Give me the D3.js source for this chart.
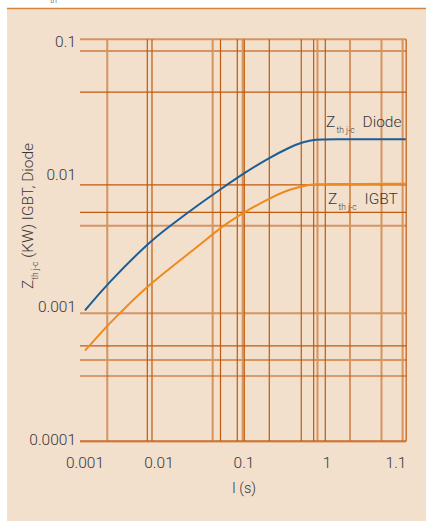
<!DOCTYPE html>
<html>
<head>
<meta charset="utf-8">
<script src="https://cdn.jsdelivr.net/npm/d3@7"></script>
<style>
body { margin: 0; background: #fff; }
text { font-family: Roboto, "Liberation Sans", sans-serif; font-weight: 300; fill: #383838; }
</style>
</head>
<body>
<svg width="426" height="521"></svg>
<script>
// tick values and labels
var xTicks = [0.001, 0.01, 0.1, 1, 1.1],
    xTickLabels = ["0.001", "0.01", "0.1", "1", "1.1"],
    yTicks = [0.1, 0.01, 0.001, 0.0001],
    yTickLabels = ["0.1", "0.01", "0.001", "0.0001"];

// grid lines (values in axis units)
var vGridLight = [0.002, 0.0428, 0.0965, 0.768, 1.0323, 1.0782, 1.1101],
    vGridDark = [0.00695, 0.00804, 0.0529, 0.0834, 0.1008, 0.2018, 0.49, 0.691, 0.954, 1.1156],
    hGridLight = [0.1039, 0.0848, 0.00409, 0.000894, 0.000397, 0.0000965],
    hGridDark = [0.0416, 0.00829, 0.00516, 0.000507, 0.000301, 0.0000974];

// curves
var diodeT = [0.001, 0.00203, 0.00717, 0.01347, 0.0304, 0.0547, 0.0981, 0.2018, 0.358, 0.518, 0.751, 0.95, 1.115],
    diodeZ = [0.00094, 0.0015, 0.00304, 0.00407, 0.0060, 0.0078, 0.0101, 0.0133, 0.0160, 0.01755, 0.01828, 0.01832, 0.01832];
var igbtT = [0.001, 0.00203, 0.00297, 0.00717, 0.0304, 0.0547, 0.1, 0.2018, 0.358, 0.624, 0.902, 1.115],
    igbtZ = [0.000467, 0.00073, 0.000894, 0.00147, 0.00292, 0.00404, 0.00516, 0.00658, 0.00773, 0.0084, 0.00845, 0.00845];

var xMin = 0.000856, xMax = 1.1156, yMin = 0.0000974, yMax = 0.1039;

var svg = d3.select("svg");

var x = d3.scaleLog().domain(xTicks).range([85, 159, 244, 327, 396]),
    y = d3.scaleLog().domain([0.0001, 0.1]).range([439.5, 41.5]);

// background
svg.append("rect").attr("x", 7).attr("y", 9).attr("width", 419).attr("height", 512).attr("fill", "#f2dfcc");
svg.append("line").attr("x1", 7).attr("x2", 426).attr("y1", 8.5).attr("y2", 8.5)
  .attr("stroke", "#d3843f").attr("stroke-width", 1.5);
svg.append("text").attr("x", 50).attr("y", 3).style("font-size", "8px").text("th");

var grid = svg.append("g");

function hLines(vals, color, w) {
  grid.append("g").selectAll("line").data(vals).enter().append("line")
    .attr("x1", x(xMin)).attr("x2", x(xMax))
    .attr("y1", function(d) { return y(d); }).attr("y2", function(d) { return y(d); })
    .attr("stroke", color).attr("stroke-width", w);
}
function vLines(vals, color, w) {
  grid.append("g").selectAll("line").data(vals).enter().append("line")
    .attr("y1", y(yMin)).attr("y2", y(yMax))
    .attr("x1", function(d) { return x(d); }).attr("x2", function(d) { return x(d); })
    .attr("stroke", color).attr("stroke-width", w);
}
hLines(hGridLight, "#d59460", 2);
vLines(vGridLight, "#d59460", 2);
hLines(hGridDark, "#c05a0c", 1.2);
vLines(vGridDark, "#c05a0c", 1.2);

// curves
var line = d3.line()
  .x(function(d) { return x(d[0]); })
  .y(function(d) { return y(d[1]); })
  .curve(d3.curveBasis);

svg.append("path").datum(d3.zip(igbtT, igbtZ)).attr("d", line)
  .attr("fill", "none").attr("stroke", "#f08a1c").attr("stroke-width", 2);
svg.append("path").datum(d3.zip(diodeT, diodeZ)).attr("d", line)
  .attr("fill", "none").attr("stroke", "#1b5e96").attr("stroke-width", 2);

// axis labels
svg.append("g").selectAll("text").data(yTicks).enter().append("text")
  .attr("x", 76).attr("y", function(d) { return y(d); }).attr("dy", "0.35em")
  .attr("text-anchor", "end").style("font-size", "15.5px")
  .text(function(d, i) { return yTickLabels[i]; });

svg.append("g").selectAll("text").data(xTicks).enter().append("text")
  .attr("x", function(d) { return x(d); }).attr("y", 468)
  .attr("text-anchor", "middle").style("font-size", "15.5px")
  .text(function(d, i) { return xTickLabels[i]; });

svg.append("text").attr("x", 244).attr("y", 493).attr("text-anchor", "middle")
  .style("font-size", "14.5px").text("I (s)");

// y title
var yt = svg.append("text").attr("transform", "translate(33,216) rotate(-90)")
  .attr("text-anchor", "middle").style("font-size", "15.5px");
yt.append("tspan").text("Z");
yt.append("tspan").attr("dy", 5).style("font-size", "8.5px").text("th j-c");
yt.append("tspan").attr("dy", -5).text(" (KW) IGBT, Diode");

// curve labels
function zLabel(px, py, name) {
  var t = svg.append("text").attr("y", py).style("font-size", "15.5px");
  t.append("tspan").attr("x", px).text("Z");
  t.append("tspan").attr("x", px + 10.5).attr("dy", 6).style("font-size", "8.5px").text("th j-c");
  t.append("tspan").attr("x", px + 36.5).attr("dy", -6).text(name);
}
zLabel(326, 127, "Diode");
zLabel(328, 204, "IGBT");
</script>
</body>
</html>
